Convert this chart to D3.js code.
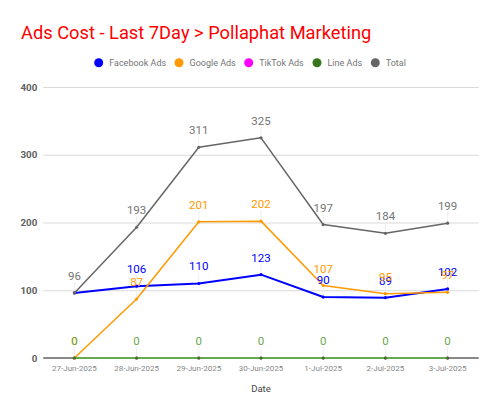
<!DOCTYPE html>
<html>
<head>
<meta charset="utf-8">
<script src="https://cdn.jsdelivr.net/npm/d3@7"></script>
<style>
  body { margin: 0; background: #fff; }
  text { font-family: Roboto, "Noto Sans", sans-serif; }
</style>
</head>
<body>
<div id="chart"></div>
<script>
const dates = ["27-Jun-2025", "28-Jun-2025", "29-Jun-2025", "30-Jun-2025", "1-Jul-2025", "2-Jul-2025", "3-Jul-2025"];
const facebookAds = [96, 106, 110, 123, 90, 89, 102];
const googleAds = [0, 87, 201, 202, 107, 95, 97];
const tiktokAds = [0, 0, 0, 0, 0, 0, 0];
const lineAds = [0, 0, 0, 0, 0, 0, 0];
const totals = [96, 193, 311, 325, 197, 184, 199];
const yTicks = [0, 100, 200, 300, 400];

// draw order: bottom first
const series = [
    { name: "TikTok Ads", values: tiktokAds, color: "#ff00ff", width: 2, labels: false },
    { name: "Facebook Ads", values: facebookAds, color: "#0000ff", width: 2, labels: true },
    { name: "Google Ads", values: googleAds, color: "#ff9900", width: 1.5, labels: true },
    { name: "Line Ads", values: lineAds, color: "#38761d", lineColor: "#6aa84f", width: 2.2, labels: true, labelColor: "#6aa84f" },
    { name: "Total", values: totals, color: "#666666", width: 1.5, labels: true, labelColor: "#757575" }
];
const legendOrder = ["Facebook Ads", "Google Ads", "TikTok Ads", "Line Ads", "Total"];

const width = 500, height = 415;
const margin = { left: 43.3, right: 21.3, top: 87, bottom: 57 };

const svg = d3.select("#chart").append("svg")
    .attr("width", width).attr("height", height);

const x = d3.scaleBand().domain(dates)
    .range([margin.left, width - margin.right]);
const y = d3.scaleLinear().domain([0, 400])
    .range([height - margin.bottom, margin.top]);

svg.append("text")
    .attr("x", 21).attr("y", 38.5)
    .attr("fill", "#ff0000").attr("font-size", 18.3)
    .text("Ads Cost - Last 7Day > Pollaphat Marketing");

// legend
const legendX = [98.7, 179, 248.7, 317, 375.3];
legendOrder.forEach((name, i) => {
    const s = series.find(d => d.name === name);
    svg.append("circle").attr("cx", legendX[i]).attr("cy", 62.7).attr("r", 4.5).attr("fill", s.color);
    svg.append("text").attr("x", legendX[i] + 10.5).attr("y", 62.7).attr("dy", "0.35em")
        .attr("font-size", 9).attr("fill", "#757575").text(name);
});

// grid + y axis labels
const yAxis = d3.axisLeft(y).tickValues(yTicks)
    .tickSize(-(width - margin.left - margin.right)).tickPadding(6);
svg.append("g").attr("transform", `translate(${margin.left},0)`).call(yAxis)
    .call(g => g.select(".domain").remove())
    .call(g => g.selectAll(".tick line").attr("stroke", "#d9d9d9"))
    .call(g => g.selectAll(".tick text").attr("fill", "#5f5f5f").attr("font-size", 9.8)
        .attr("font-weight", "bold").attr("font-family", "Roboto, sans-serif"));

// baseline
svg.append("line")
    .attr("x1", margin.left).attr("x2", width - margin.right)
    .attr("y1", y(0)).attr("y2", y(0))
    .attr("stroke", "#888888").attr("stroke-width", 2);

// x axis labels
const xAxis = d3.axisBottom(x).tickSize(0).tickPadding(6);
svg.append("g").attr("transform", `translate(0,${y(0) + 1})`).call(xAxis)
    .call(g => g.select(".domain").remove())
    .call(g => g.selectAll(".tick text").attr("fill", "#888").attr("font-size", 8)
        .attr("font-family", "Roboto, sans-serif"));

svg.append("text")
    .attr("x", (margin.left + width - margin.right) / 2).attr("y", 389).attr("dy", "0.35em")
    .attr("text-anchor", "middle").attr("font-size", 9.5).attr("fill", "#444")
    .text("Date");

const cx = d => x(d) + x.bandwidth() / 2;
const line = d3.line().x((d, i) => cx(dates[i])).y(d => y(d));

// faint label stems
series.filter(s => s.labels).forEach(s => {
    svg.append("g").selectAll("line").data(s.values).join("line")
        .attr("x1", (d, i) => cx(dates[i])).attr("x2", (d, i) => cx(dates[i]))
        .attr("y1", d => y(d)).attr("y2", d => y(d) - 11)
        .attr("stroke", "#eeeeee").attr("stroke-width", 1);
});

series.forEach(s => {
    svg.append("path").datum(s.values)
        .attr("d", line).attr("fill", "none")
        .attr("stroke", s.lineColor || s.color).attr("stroke-width", s.width)
        .attr("stroke-linejoin", "round");
    svg.append("g").selectAll("circle").data(s.values).join("circle")
        .attr("cx", (d, i) => cx(dates[i])).attr("cy", d => y(d))
        .attr("r", 1.6).attr("fill", s.color);
});

// value labels; a label sitting exactly on the Total label is hidden, as in the source chart
series.filter(s => s.labels).forEach(s => {
    const items = s.values.map((v, i) => ({ v, i }))
        .filter(d => s.name === "Total" || d.v === 0 || d.v !== totals[d.i]);
    svg.append("g").selectAll("text").data(items).join("text")
        .attr("x", d => cx(dates[d.i])).attr("y", d => y(d.v) - 13)
        .attr("text-anchor", "middle").attr("font-size", 11.5)
        .attr("fill", s.labelColor || s.color)
        .text(d => d.v);
});
</script>
</body>
</html>
